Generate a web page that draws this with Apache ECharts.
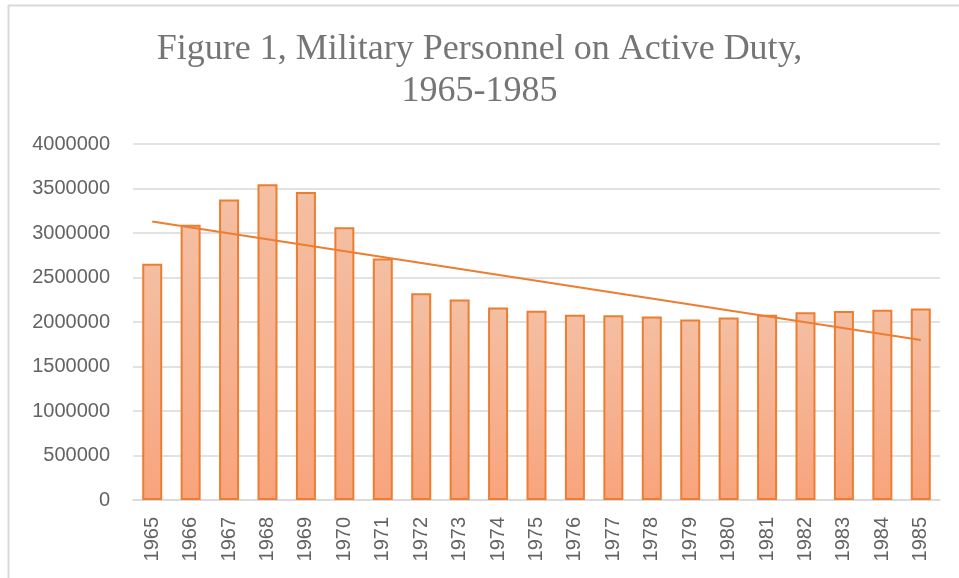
<!DOCTYPE html>
<html>
<head>
<meta charset="utf-8">
<script src="https://cdn.jsdelivr.net/npm/echarts@6/dist/echarts.min.js"></script>
<style>html,body{margin:0;padding:0;background:#fff}#c{width:959px;height:578px}</style>
</head>
<body>
<div id="c"></div>
<script>
const years = ['1965','1966','1967','1968','1969','1970','1971','1972','1973','1974','1975','1976','1977','1978','1979','1980','1981','1982','1983','1984','1985'];
const personnel = [2655389,3094058,3376880,3547902,3460162,3064760,2713044,2322332,2252900,2161588,2127582,2081910,2074543,2062404,2027494,2050758,2082560,2108612,2122946,2138339,2151032];
const trendYears = ['1965','1985'];
const trendValues = [3130000,1798000];
const yTicks = [0,500000,1000000,1500000,2000000,2500000,3000000,3500000,4000000];

const chart = echarts.init(document.getElementById('c'));
chart.setOption({
  animation: false,
  title: {
    text: 'Figure 1, Military Personnel on Active Duty,\n1965-1985',
    left: 'center',
    top: 24,
    textStyle: {fontFamily: 'Liberation Serif', fontSize: 36, fontWeight: 'normal', color: '#757575', lineHeight: 42}
  },
  graphic: [
    {type: 'line', shape: {x1: 8, y1: 5.5, x2: 959, y2: 5.5}, style: {stroke: '#d9d9d9', lineWidth: 2}},
    {type: 'line', shape: {x1: 8.5, y1: 5, x2: 8.5, y2: 578}, style: {stroke: '#d9d9d9', lineWidth: 2}}
  ],
  grid: {left: 133, right: 19, top: 144, bottom: 78, containLabel: false},
  xAxis: {
    type: 'category',
    data: years,
    axisLine: {lineStyle: {color: '#d9d9d9', width: 1.5}},
    axisTick: {show: false},
    axisLabel: {rotate: 90, margin: 17, fontFamily: 'Liberation Sans', fontSize: 20, color: '#636363', interval: 0}
  },
  yAxis: {
    type: 'value',
    min: yTicks[0],
    max: yTicks[yTicks.length - 1],
    interval: yTicks[1] - yTicks[0],
    axisLine: {show: false},
    axisTick: {show: false},
    splitLine: {lineStyle: {color: '#d9d9d9', width: 1.5}},
    axisLabel: {margin: 23, fontFamily: 'Liberation Sans', fontSize: 20, color: '#636363', formatter: v => String(v)}
  },
  series: [
    {
      type: 'bar',
      data: personnel,
      barCategoryGap: '48%',
      itemStyle: {
        color: new echarts.graphic.LinearGradient(0, 0, 0, 1, [
          {offset: 0, color: '#F4BFA3'},
          {offset: 1, color: '#F8A47C'}
        ]),
        borderColor: '#ED7D31',
        borderWidth: 2
      }
    },
    {
      type: 'line',
      data: trendYears.map((y, i) => [y, trendValues[i]]),
      symbol: 'none',
      lineStyle: {color: '#ED7D31', width: 2},
      z: 5
    }
  ]
});
</script>
</body>
</html>
